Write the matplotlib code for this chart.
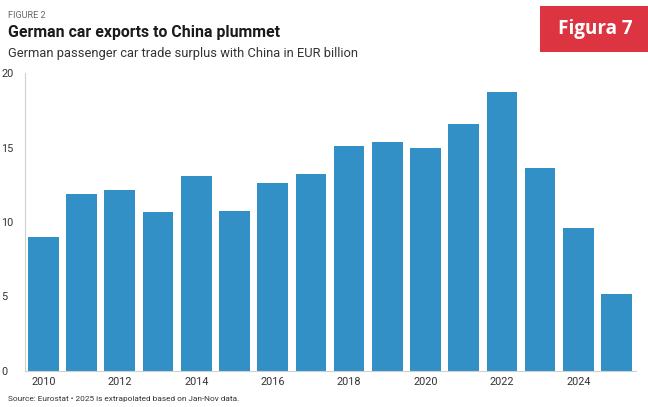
import matplotlib.pyplot as plt
from matplotlib.patches import Rectangle

# German passenger car trade surplus with China, EUR billion
years = list(range(2010, 2026))
surplus = [9.0, 11.9, 12.15, 10.7, 13.1, 10.75, 12.6, 13.2,
           15.1, 15.4, 14.95, 16.6, 18.7, 13.65, 9.6, 5.2]
xtick_years = [2010, 2012, 2014, 2016, 2018, 2020, 2022, 2024]
ytick_vals = [0, 5, 10, 15, 20]

bar_color = '#3290c6'
text_color = '#333333'

plt.rcParams['font.family'] = ['Roboto', 'DejaVu Sans']

fig = plt.figure(figsize=(6.48, 4.07), dpi=100)
ax = fig.add_axes([0.0386, 0.0885, 0.9424, 0.732])

ax.bar(years, surplus, width=0.8, color=bar_color, zorder=2)

ax.set_xlim(2009.52, 2025.5)
ax.set_ylim(0, 20)
ax.set_xticks(xtick_years)
ax.set_xticklabels([str(y) for y in xtick_years])
ax.set_yticks(ytick_vals)
ax.set_yticklabels([str(v) for v in ytick_vals], ha='left')

ax.tick_params(axis='both', length=0, labelsize=7.8, colors=text_color)
ax.tick_params(axis='x', pad=4)
ax.tick_params(axis='y', pad=17)

for side in ['top', 'right']:
    ax.spines[side].set_visible(False)
ax.spines['left'].set_color('#d0d0d0')
ax.spines['bottom'].set_color('#d0d0d0')
ax.spines['left'].set_linewidth(0.8)
ax.spines['bottom'].set_linewidth(0.8)

# Header
fig.text(8 / 648, 1 - 15 / 407, 'FIGURE 2', fontsize=6.6, color='#666666',
         va='center', ha='left')
fig.text(8 / 648, 1 - 33 / 407, 'German car exports to China plummet',
         fontsize=11.4, fontweight='bold', color='#1a1a1a', va='center', ha='left')
fig.text(8 / 648, 1 - 53 / 407,
         'German passenger car trade surplus with China in EUR billion',
         fontsize=9.3, color=text_color, va='center', ha='left')

# Footer
fig.text(8 / 648, 1 - 399 / 407,
         'Source: Eurostat \u2022 2025 is extrapolated based on Jan-Nov data.',
         fontsize=5.95, color=text_color, va='center', ha='left')

# Red figure badge
fig.patches.append(Rectangle((540 / 648, 1 - 52 / 407), 108 / 648, 46 / 407,
                             transform=fig.transFigure, facecolor='#dc3440',
                             edgecolor='none', zorder=5))
fig.text(595 / 648, 1 - 29 / 407, 'Figura 7', fontsize=13.6, fontweight='bold',
         color='white', va='center', ha='center', family=['Open Sans', 'DejaVu Sans'],
         zorder=6)

fig.savefig('out.png', dpi=100)
